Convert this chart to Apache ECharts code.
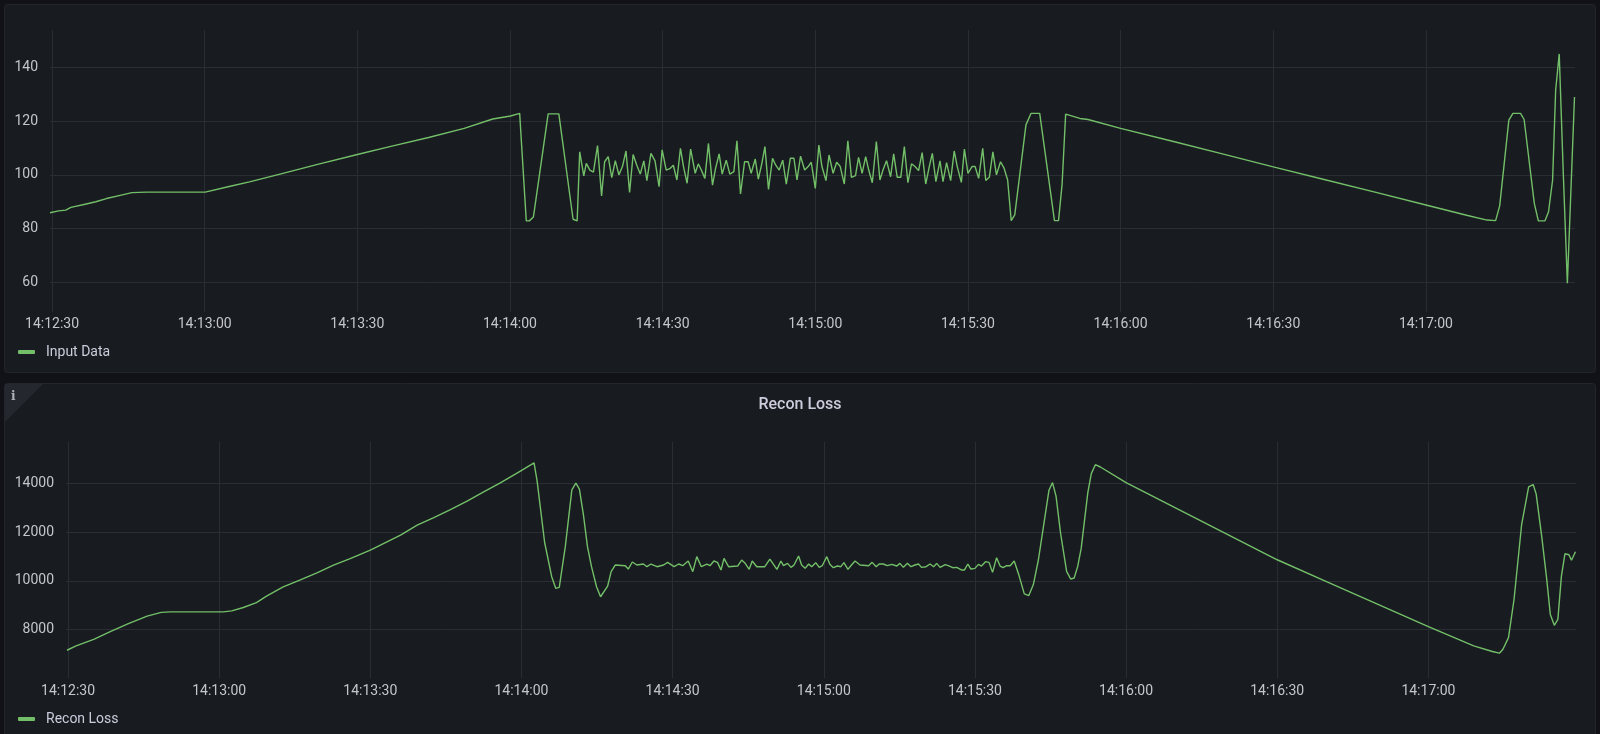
<!DOCTYPE html>
<html>
<head>
<meta charset="utf-8">
<script src="https://cdn.jsdelivr.net/npm/echarts@6/dist/echarts.min.js"></script>
<style>
html,body{margin:0;padding:0;background:#111217;}
#main{width:1600px;height:734px;}
</style>
</head>
<body>
<div id="main"></div>
<script>
// 时间都按 14:12:00 之后的秒数记
var baseTime = new Date(2023, 0, 1, 14, 12, 0).getTime();

var xTickLabels = ['14:12:30','14:13:00','14:13:30','14:14:00','14:14:30','14:15:00','14:15:30','14:16:00','14:16:30','14:17:00'];
var inputTicks = [60, 80, 100, 120, 140];
var lossTicks = [8000, 10000, 12000, 14000];

// Input Data
var inputSec = [
    29.6,31.3,32.7,33.7,36.5,38.6,40.7,43.6,45.7,48.5,60.1,64.6,68.8,75,82,90,97,104,111,116.6,120.1,121.9,
    123.2,123.8,124.6,127.5,129.6,132.4,133.2,
    133.7,134.5,135.0,135.7,136.4,137.2,138.0,138.6,139.3,140.0,
    140.7,141.4,142.1,142.8,143.5,144.2,144.9,145.6,146.3,146.9,
    147.7,148.5,149.3,149.9,150.7,151.4,152.1,152.8,153.5,154.1,
    154.8,155.5,156.4,157.0,157.6,158.3,159.0,159.8,160.4,161.1,
    161.7,162.5,163.2,164.0,164.6,165.3,166.1,166.8,167.4,168.2,
    168.8,169.5,170.1,170.8,171.6,172.2,172.9,173.6,174.3,175.1,
    175.8,176.4,177.1,177.9,178.6,179.2,180.0,180.7,181.3,182.1,
    182.7,183.5,184.2,184.9,185.7,186.4,187.1,187.9,188.5,189.2,
    189.9,190.5,191.2,192.0,192.7,193.3,194.0,194.8,195.4,196.1,
    196.8,197.5,198.2,198.9,199.6,200.3,201.0,201.7,202.4,203.0,
    203.7,204.5,205.1,205.8,206.6,207.3,207.9,208.7,209.3,210.0,
    210.8,211.4,212.1,212.9,213.5,214.2,214.9,215.6,216.4,217.1,
    217.8,
    218.5,219.2,221.4,222.4,224.1,224.4,227.0,227.8,228.5,229.2,
    232.0,233.6,240,250,260,270,280,290,300,308,
    312.0,313.7,314.5,316.3,317.1,318.6,319.3,321.3,322.1,323.4,
    324.1,324.9,325.5,326.2,327.0,327.8,329.2
];
var inputVal = [
    85.9,86.6,86.9,87.9,89.1,90.0,91.2,92.5,93.4,93.6,93.6,95.6,97.4,100.4,103.8,107.6,110.8,113.9,117.3,120.8,121.9,122.9,
    82.9,82.9,84.3,122.7,122.7,83.5,82.9,
    108.6,99.6,104.3,101.8,101.0,110.9,92.2,104.9,106.8,99.0,
    105.3,100.0,103.1,108.9,93.5,107.6,103.7,100.3,105.2,97.9,
    108.0,105.2,95.6,109.3,101.8,102.3,103.6,98.1,109.9,103.1,
    96.9,109.6,100.6,104.1,101.8,98.7,111.7,96.2,102.4,107.8,
    100.3,105.5,100.3,101.2,112.7,92.9,104.9,104.9,100.6,105.9,
    98.4,104.3,110.5,94.6,106.2,103.7,101.8,105.5,96.6,106.2,
    106.2,98.1,107.0,101.8,103.1,104.7,95.0,111.1,103.1,97.9,
    107.4,100.6,104.7,103.1,96.6,112.7,99.1,99.7,106.5,100.6,
    106.8,101.8,97.1,112.4,98.1,101.8,105.3,99.3,107.8,99.1,
    99.1,110.5,97.1,104.1,103.1,101.6,108.3,96.6,103.1,108.0,
    97.5,105.2,97.5,104.6,97.9,108.9,103.1,97.2,109.6,100.6,
    103.1,103.1,98.7,109.9,97.9,99.1,108.6,100.0,104.9,102.5,
    98.1,
    83.0,85.1,118.6,122.9,122.9,122.3,83.0,83.0,96.5,122.6,
    121.0,120.6,117.3,112.6,107.8,103.0,98.3,93.6,88.8,85.0,
    83.2,83.0,88.5,120.4,122.9,122.9,120.6,89.4,82.9,82.9,
    86.3,98.1,131.6,145.0,100.5,59.7,129.0
];

// Recon Loss
var lossSec = [
    29.8,31.6,35.1,38.6,42.1,45.7,48.5,50.3,60.8,62.5,
    64.8,67.4,69.4,72.7,76.0,79.4,82.7,86.0,90.0,93.3,
    96.0,99.3,102.6,105.9,109.2,112.5,115.8,119.2,122.5,
    123.1,124.6,126.0,126.8,127.5,128.7,130.0,130.8,131.5,132.3,
    133.1,133.9,134.9,135.7,137.1,137.8,138.6,
    140.6,141.2,142.0,142.9,144.2,144.9,145.7,146.9,148.2,149.0,
    150.3,151.2,152.0,153.1,154.0,154.8,155.7,156.8,157.4,158.2,
    158.9,159.6,160.2,161.1,162.9,163.7,164.4,165.2,165.8,166.7,
    168.3,169.3,170.7,171.5,172.0,172.8,173.5,174.1,175.0,175.6,
    176.3,177.0,177.6,178.4,179.1,179.7,180.6,181.2,181.9,182.7,
    183.4,184.0,184.8,185.5,186.2,187.2,188.9,189.6,190.4,191.0,
    191.8,192.6,193.5,194.5,195.1,195.8,196.6,197.3,198.1,198.8,
    199.4,200.3,201.1,201.8,202.4,203.1,204.1,204.7,205.6,206.4,
    207.4,207.9,208.6,209.2,210.0,210.7,211.3,212.1,212.8,213.5,
    214.3,215.0,215.6,216.3,217.0,217.8,
    218.7,219.8,220.7,221.6,222.6,223.7,224.7,225.4,226.1,227.0,
    228.2,229.0,229.7,230.4,231.1,232.4,233.1,233.9,234.9,240,
    250,260,270,280,290,300,309,312.7,314.1,314.8,
    315.9,317.0,318.5,319.9,320.8,321.4,322.5,323.5,324.2,325.0,
    325.7,326.4,327.1,327.9,328.4,329.2
];
var lossVal = [
    7157,7333,7605,7946,8259,8558,8710,8733,8733,8774,
    8911,9116,9376,9759,10033,10334,10648,10922,11264,11606,
    11880,12290,12605,12933,13275,13658,14027,14438,14848,
    14110,11580,10176,9700,9737,11410,13741,14015,13768,12712,
    11410,10587,9765,9353,9792,10382,10656,
    10628,10491,10779,10656,10697,10587,10697,10587,10656,10765,
    10587,10697,10628,10820,10382,10999,10587,10697,10628,10820,
    10765,10450,10930,10587,10615,10861,10724,10478,10820,10587,
    10587,10902,10478,10820,10628,10724,10560,10656,11026,10656,
    10519,10697,10587,10752,10560,10628,10999,10683,10546,10615,
    10587,10752,10478,10656,10820,10656,10628,10765,10587,10697,
    10697,10628,10683,10615,10724,10560,10724,10587,10656,10697,
    10560,10587,10697,10587,10724,10560,10669,10628,10546,10560,
    10450,10450,10697,10491,10519,10683,10615,10793,10765,10354,
    10957,10615,10546,10628,10628,10820,
    10260,9471,9403,9852,10872,12368,13728,14041,13483,11960,
    10396,10083,10124,10600,11348,13619,14408,14775,14680,14041,
    12985,11928,10872,9956,9040,8125,7336,7105,7037,7200,
    7676,9240,12300,13864,13959,13565,11824,10056,8628,8179,
    8424,10192,11117,11076,10850,11200
];

function toTime(sec){
    return baseTime + sec * 1000;
}
function labelToTime(s){
    var p = s.split(':');
    return new Date(2023, 0, 1, +p[0], +p[1], +p[2]).getTime();
}
function pad(n){ return n < 10 ? '0' + n : '' + n; }
function fmtTime(v){
    var d = new Date(v);
    return pad(d.getHours()) + ':' + pad(d.getMinutes()) + ':' + pad(d.getSeconds());
}
function pairs(secs, vals){
    var out = [];
    for (var i = 0; i < secs.length; i++) {
        out.push([toTime(secs[i]), vals[i]]);
    }
    return out;
}

var xTicks = xTickLabels.map(labelToTime);
var textColor = '#c4c6cc';
var gridColor = '#2a2d33';
var lineColor = '#73bf69';
var fontFamily = 'Roboto, "Noto Sans", sans-serif';

// x轴用数值轴存毫秒时间戳，刻度用 customValues 固定在整30秒
function makeXAxis(idx, margin){
    return {
        type: 'value',
        gridIndex: idx,
        min: toTime(29.6),
        max: toTime(329.3),
        axisLine: { show: false },
        axisTick: { show: false, customValues: xTicks },
        axisLabel: {
            customValues: xTicks,
            color: textColor,
            fontSize: 14,
            fontFamily: fontFamily,
            margin: margin,
            formatter: function(v){ return fmtTime(v); }
        },
        splitLine: { show: true, lineStyle: { color: gridColor, width: 1 } }
    };
}
function makeYAxis(idx, min, max, ticks){
    return {
        type: 'value',
        gridIndex: idx,
        min: min,
        max: max,
        axisLine: { show: false },
        axisTick: { show: false, customValues: ticks },
        axisLabel: {
            customValues: ticks,
            color: textColor,
            fontSize: 14,
            fontFamily: fontFamily,
            margin: 12,
            formatter: function(v){ return String(v); }
        },
        splitLine: { show: true, lineStyle: { color: gridColor, width: 1 } }
    };
}

var chart = echarts.init(document.getElementById('main'));
var option = {
    backgroundColor: '#111217',
    animation: false,
    graphic: [
        { type: 'rect', z: -10, silent: true,
          shape: { x: 4.5, y: 4.5, width: 1591, height: 368, r: 3 },
          style: { fill: '#181b1f', stroke: '#22252b', lineWidth: 1 } },
        { type: 'rect', z: -10, silent: true,
          shape: { x: 4.5, y: 383.5, width: 1591, height: 360, r: 3 },
          style: { fill: '#181b1f', stroke: '#22252b', lineWidth: 1 } },
        { type: 'polygon', z: -9, silent: true,
          shape: { points: [[5, 384], [43, 384], [5, 422]] },
          style: { fill: '#24272d' } },
        { type: 'text', z: -8, silent: true, left: 11, top: 391,
          style: { text: 'i', fill: '#b0b2b8', font: 'bold 12px "DejaVu Serif", serif' } }
    ],
    title: {
        text: 'Recon Loss',
        left: 'center',
        top: 397,
        padding: 0,
        textStyle: { color: '#ccccdc', fontSize: 16, fontWeight: 500, fontFamily: fontFamily }
    },
    legend: [{
        data: ['Input Data'],
        left: 18, top: 345, padding: 0,
        icon: 'roundRect', itemWidth: 17, itemHeight: 4,
        textStyle: { color: '#ccccdc', fontSize: 14, fontFamily: fontFamily, padding: [0, 0, 0, 6] }
    }, {
        data: ['Recon Loss'],
        left: 18, top: 712, padding: 0,
        icon: 'roundRect', itemWidth: 17, itemHeight: 4,
        textStyle: { color: '#ccccdc', fontSize: 14, fontFamily: fontFamily, padding: [0, 0, 0, 6] }
    }],
    grid: [
        { left: 50, right: 25, top: 30, bottom: 422 },
        { left: 66, right: 24, top: 442, bottom: 56 }
    ],
    xAxis: [makeXAxis(0, 5), makeXAxis(1, 6)],
    yAxis: [
        makeYAxis(0, 49, 153.9, inputTicks),
        makeYAxis(1, 6018, 15706, lossTicks)
    ],
    series: [{
        name: 'Input Data',
        type: 'line',
        xAxisIndex: 0, yAxisIndex: 0,
        showSymbol: false,
        lineStyle: { color: lineColor, width: 1.4 },
        itemStyle: { color: lineColor },
        data: pairs(inputSec, inputVal)
    }, {
        name: 'Recon Loss',
        type: 'line',
        xAxisIndex: 1, yAxisIndex: 1,
        showSymbol: false,
        lineStyle: { color: lineColor, width: 1.4 },
        itemStyle: { color: lineColor },
        data: pairs(lossSec, lossVal)
    }]
};
chart.setOption(option);
</script>
</body>
</html>
